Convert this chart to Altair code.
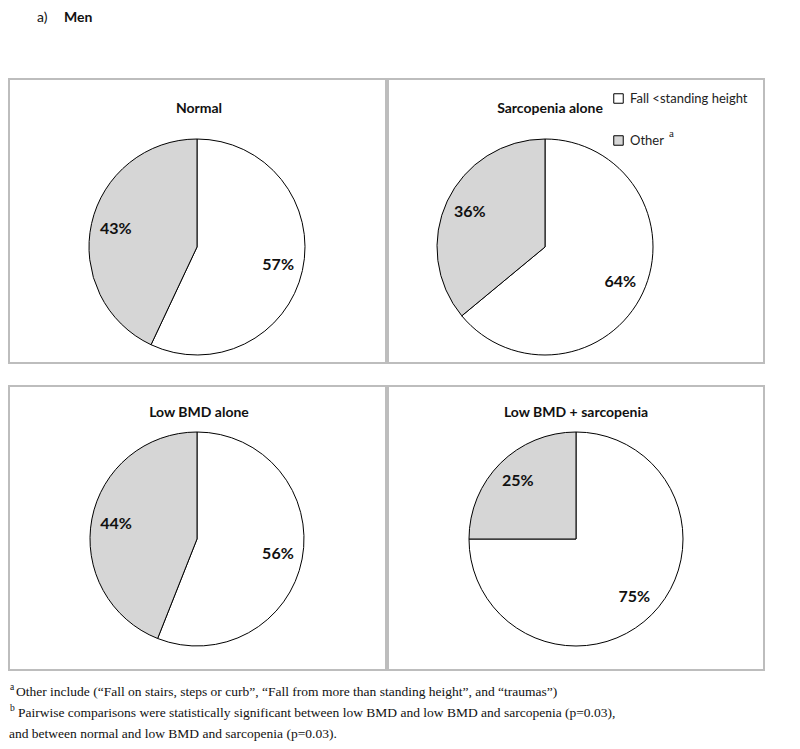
import altair as alt
import pandas as pd

# ---- data ----
panels = ["Normal", "Sarcopenia alone", "Low BMD alone", "Low BMD + sarcopenia"]
fall_pct = [57, 64, 56, 75]
other_pct = [43, 36, 44, 25]
categories = ["Fall <standing height", "Other"]
fill_colors = ["#ffffff", "#d6d6d6"]

footnote_marks = ["a", "b"]
footnote_lines = [
    "Other include  (\u201cFall on stairs, steps or curb\u201d, \u201cFall from more than standing height\u201d,  and \u201ctraumas\u201d)",
    "Pairwise  comparisons  were statistically  significant  between low BMD and low BMD and sarcopenia  (p=0.03),",
    "and between normal  and low BMD and sarcopenia (p=0.03).",
]

FONT = "Lato"
BORDER = alt.ViewBackground(stroke="#bdbdbd", strokeWidth=2)


def pie(i, w, h, cx, cy, r, tx, ty, extra=None):
    df = pd.DataFrame({
        "cat": categories,
        "pct": [fall_pct[i], other_pct[i]],
        "k": [0, 1],
        "label": [f"{fall_pct[i]}%", f"{other_pct[i]}%"],
    })
    base = alt.Chart(df).encode(
        theta=alt.Theta("pct:Q", stack=True),
        order=alt.Order("k:Q"),
    )
    arc = base.mark_arc(radius=r, stroke="black", strokeWidth=1).encode(
        fill=alt.Fill(
            "cat:N",
            scale=alt.Scale(domain=categories, range=fill_colors),
            legend=alt.Legend(
                title=None, orient="none", legendX=603, legendY=84,
                symbolType="square", symbolSize=90, symbolStrokeColor="black",
                symbolStrokeWidth=1, labelFont=FONT, labelFontSize=13,
                labelColor="#222222", rowPadding=27, padding=0, labelOffset=5,
            ),
        ),
        x=alt.value(cx), y=alt.value(cy),
    )
    lab = base.mark_text(radius=r * 0.77, font=FONT, fontWeight="bold",
                         fontSize=16, color="#111111").encode(
        text="label:N", x=alt.value(cx), y=alt.value(cy)
    )
    ttl = alt.Chart(pd.DataFrame({"t": [panels[i]]})).mark_text(
        font=FONT, fontWeight="bold", fontSize=14, color="#111111"
    ).encode(text="t:N", x=alt.value(tx), y=alt.value(ty))
    layers = [arc, lab, ttl]
    if extra is not None:
        layers.append(extra)
    return alt.layer(*layers).properties(width=w, height=h, view=BORDER)


sup_a = alt.Chart(pd.DataFrame({"t": ["a"]})).mark_text(
    font="Liberation Serif", fontSize=11, color="#222222", align="left"
).encode(text="t:N", x=alt.value(281), y=alt.value(55))

p1 = pie(0, 377, 284, 188, 168, 108, 190, 30)
p2 = pie(1, 376, 284, 157, 168, 108, 162, 30, extra=sup_a)
p3 = pie(2, 377, 284, 188, 153, 107, 190, 27)
p4 = pie(3, 376, 284, 188, 153, 107, 188, 27)

row1 = alt.hconcat(p1, p2, spacing=0)
row2 = alt.hconcat(p3, p4, spacing=0)
grid = alt.vconcat(row1, row2, spacing=21)

# header
hdr_a = alt.Chart(pd.DataFrame({"t": ["a)"]})).mark_text(
    font=FONT, fontSize=14, align="left", color="#111111"
).encode(text="t:N", x=alt.value(28), y=alt.value(10))
hdr_m = alt.Chart(pd.DataFrame({"t": ["Men"]})).mark_text(
    font=FONT, fontSize=14, fontWeight="bold", align="left", color="#111111"
).encode(text="t:N", x=alt.value(55), y=alt.value(10))
header = alt.layer(hdr_a, hdr_m).properties(
    width=753, height=70, view=alt.ViewBackground(strokeWidth=0)
)

# footer
foot_df = pd.DataFrame({"line": footnote_lines, "row": [0, 1, 2], "x0": [7, 9, 0]})
sup_df = pd.DataFrame({"m": footnote_marks, "row": [0, 1]})
yscale = alt.Scale(domain=[0, 2], range=[21, 63])
foot_text = alt.Chart(foot_df).mark_text(
    font="Liberation Serif", fontSize=13.5, align="left", color="#111111"
).encode(
    text="line:N",
    y=alt.Y("row:Q", scale=yscale, axis=None),
    x=alt.X("x0:Q", scale=alt.Scale(domain=[0, 753], range=[0, 753]), axis=None),
)
foot_sup = alt.Chart(sup_df).mark_text(
    font="Liberation Serif", fontSize=9.5, align="left", color="#111111", dy=-5
).encode(
    text="m:N",
    y=alt.Y("row:Q", scale=yscale, axis=None),
    x=alt.value(1),
)
footer = alt.layer(foot_text, foot_sup).properties(
    width=753, height=72, view=alt.ViewBackground(strokeWidth=0)
)

chart = alt.vconcat(header, grid, footer, spacing=0).properties(
    padding=0, background="white"
).configure_view(strokeWidth=0).resolve_scale(x="independent", y="independent")

chart.save("out.html", embed_options={"renderer": "svg", "actions": False})
